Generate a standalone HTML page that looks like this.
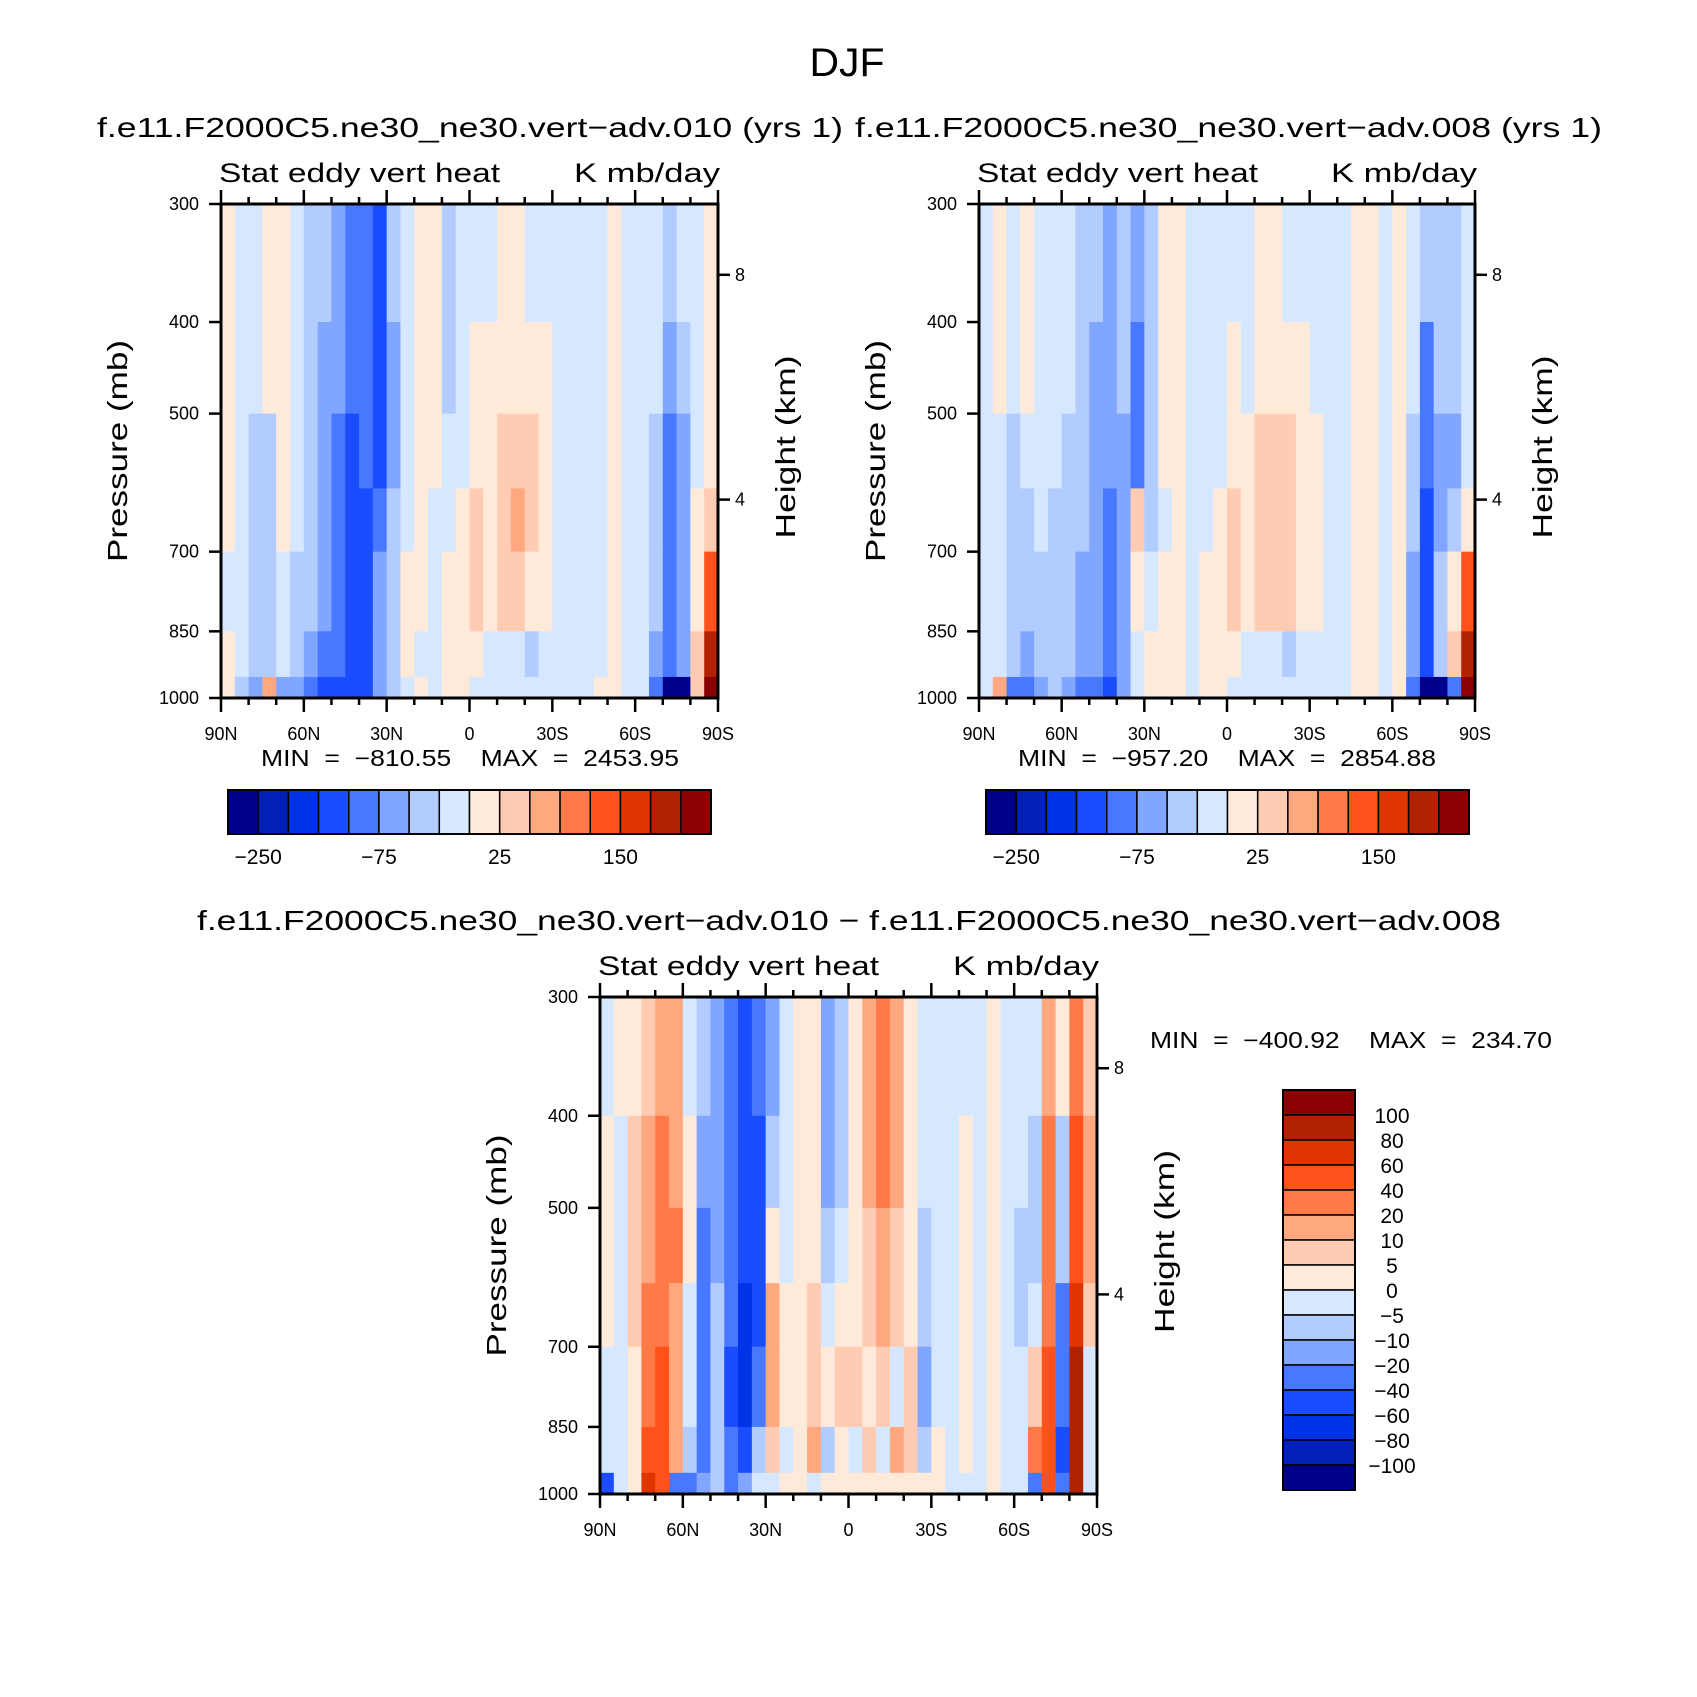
<!DOCTYPE html>
<html><head><meta charset="utf-8"><style>
html,body{margin:0;padding:0;background:#fff}
svg{display:block}
text{font-family:"Liberation Sans",sans-serif;fill:#000;white-space:pre}
</style></head><body>
<svg id="fig" width="1697" height="1697" viewBox="0 0 1697 1697" xmlns="http://www.w3.org/2000/svg">
<text x="847" y="76" font-size="40" text-anchor="middle" textLength="75" lengthAdjust="spacingAndGlyphs">DJF</text>
<g id="root"></g>
</svg>
<script>
// ---- data ----
const lats = [87.5,82.5,77.5,72.5,67.5,62.5,57.5,52.5,47.5,42.5,37.5,32.5,27.5,22.5,17.5,12.5,7.5,2.5,-2.5,-7.5,-12.5,-17.5,-22.5,-27.5,-32.5,-37.5,-42.5,-47.5,-52.5,-57.5,-62.5,-67.5,-72.5,-77.5,-82.5,-87.5];
const pEdges = [300,400,500,600,700,850,950,1000];
const levelsAbs = [-250,-200,-150,-100,-75,-50,-25,0,25,50,75,100,150,200,250];
const levelsDiff = [-100,-80,-60,-40,-20,-10,-5,0,5,10,20,40,60,80,100];
const absTickLabels = ["-250","-75","25","150"];
const absTickIdx = [0,4,8,12];
const diffTickLabels = ["100","80","60","40","20","10","5","0","-5","-10","-20","-40","-60","-80","-100"];
const latTicks = [90,60,30,0,-30,-60,-90];
const latTickLabels = ["90N","60N","30N","0","30S","60S","90S"];
const pTicks = [300,400,500,700,850,1000];
const hTicks = [356.5,616.6];
const hTickLabels = ["8","4"];
const colors = ["#00008b","#0020b8","#0032e6","#1a4dff","#4778ff","#80a6ff","#b3ccff","#d6e8ff","#ffeada","#ffcbb3","#ffa880","#ff7a47","#ff521a","#e03500","#b32200","#8b0000"];
const field010 = [
[10,-10,-10,10,10,-10,-35,-35,-60,-90,-90,-120,-35,-10,10,10,-35,-10,-10,-10,10,10,-10,-10,-10,-10,-10,-10,10,-10,-10,-10,-35,-10,-10,10],
[10,-10,-10,10,10,-10,-35,-60,-60,-90,-90,-120,-60,-10,10,10,-35,-10,10,10,10,10,10,10,-10,-10,-10,-10,10,-10,-10,-10,-60,-35,-10,10],
[10,-10,-35,-35,10,-10,-35,-60,-90,-120,-90,-120,-60,-10,10,10,-10,-10,10,10,35,35,35,10,-10,-10,-10,-10,10,-10,-10,-35,-90,-60,-10,10],
[10,-10,-35,-35,10,-10,-35,-60,-90,-120,-120,-90,-35,-10,10,-10,-10,10,35,10,35,60,35,10,-10,-10,-10,-10,10,-10,-10,-35,-90,-60,10,35],
[-10,-10,-35,-35,-10,-35,-35,-60,-90,-120,-120,-60,-35,10,10,-10,10,10,35,10,35,35,10,10,-10,-10,-10,-10,10,-10,-10,-35,-90,-60,10,100],
[10,-10,-35,-35,-10,-35,-60,-90,-90,-120,-120,-60,-35,10,-10,-10,10,10,10,-10,-10,-10,-35,-10,-10,-10,-10,-10,10,-10,-10,-60,-90,-60,35,200],
[10,-35,-60,60,-60,-60,-90,-120,-150,-150,-120,-60,-35,-10,10,-10,10,10,-10,-10,-10,-10,-10,-10,-10,-10,-10,10,10,-10,-10,-90,-300,-300,35,300]];
const field008 = [
[-10,10,-10,10,-10,-10,-10,-35,-35,-60,-35,-60,-35,10,10,-10,-10,-10,-10,-10,10,10,-10,-10,-10,-10,-10,10,10,-10,10,-10,-35,-35,-35,-10],
[-10,10,-10,10,-10,-10,-10,-35,-60,-60,-35,-90,-35,10,10,-10,-10,-10,10,-10,10,10,10,10,-10,-10,-10,10,10,-10,10,-10,-90,-35,-35,-10],
[-10,-10,-35,-10,-10,-10,-35,-35,-60,-60,-60,-90,-35,10,10,-10,-10,-10,10,10,35,35,35,10,10,-10,-10,10,10,-10,10,-35,-90,-60,-60,-10],
[-10,-10,-35,-35,-10,-35,-35,-35,-60,-90,-60,35,-35,-10,10,-10,-10,10,35,10,35,35,35,10,10,-10,-10,10,10,-10,10,-35,-120,-60,-35,10],
[-10,-10,-35,-35,-35,-35,-35,-60,-60,-90,-60,10,-10,10,10,-10,10,10,35,10,35,35,35,10,10,-10,-10,10,10,-10,10,-60,-120,-35,10,100],
[-10,-10,-35,-60,-35,-35,-35,-60,-60,-90,-60,-10,10,10,10,-10,10,10,10,-10,-10,-10,-35,-10,-10,-10,-10,10,10,-10,10,-60,-120,-35,35,200],
[-10,60,-90,-90,-60,-35,-60,-90,-90,-120,-60,-10,10,10,10,-10,10,10,-10,-10,-10,-10,-10,-10,-10,-10,-10,10,10,-10,10,-90,-300,-300,-90,300]];
const fieldDiff = [
[-2,2,2,7,15,15,-2,-7,-15,-30,-50,-30,-15,-2,2,2,-15,-7,2,15,30,15,2,-2,-2,-2,-2,-2,2,-2,-2,-2,15,2,30,7],
[2,-2,7,15,30,15,2,-15,-15,-30,-50,-50,-7,-2,2,2,-15,-7,2,15,30,15,2,-2,-2,-2,2,-2,2,-2,-2,-7,30,-7,50,15],
[2,-2,7,15,30,30,2,-30,-15,-30,-50,-50,2,-2,2,2,-7,-2,2,7,15,7,2,-7,-2,-2,2,-2,2,-2,-7,-7,30,-7,50,15],
[2,-2,7,30,30,15,-2,-30,-7,-30,-70,-50,15,2,2,7,-2,2,2,7,15,7,2,-7,-2,-2,2,-2,2,-2,-7,-2,30,-30,70,7],
[-2,-2,2,30,50,15,-2,-30,-7,-50,-70,-30,15,2,2,7,2,7,7,2,7,-2,7,-15,-2,-2,2,-2,2,-2,-2,7,50,-30,90,-2],
[-2,-2,2,50,50,15,-7,-30,-7,-30,-50,-7,7,-2,2,15,-7,2,-2,7,-2,15,7,-7,2,-2,2,-2,2,-2,-2,30,50,-50,90,-2],
[-50,-2,2,70,50,-30,-30,-15,-7,-30,-15,-2,-2,2,2,-2,2,2,2,2,2,2,2,2,2,-2,-2,-2,2,-2,-2,-30,50,-30,90,-2]];

// ---- drawing ----
const NS="http://www.w3.org/2000/svg";
const root=document.getElementById('root');
function mk(tag,attrs,parent){const e=document.createElementNS(NS,tag);for(const k in attrs)e.setAttribute(k,attrs[k]);(parent||root).appendChild(e);return e;}
function txt(s,attrs,parent){const e=mk('text',attrs,parent);e.textContent=s;return e;}
function colorFor(v,levels){let i=0;while(i<levels.length&&v>=levels[i])i++;return colors[i];}

function panel(cfg){
  const g=mk('g',{});
  
  
  const L=cfg.x0,R=cfg.x1,T=cfg.y0,B=cfg.y1;
  const xs=lat=>L+(90-lat)/180*(R-L);
  const ys=p=>B-Math.log(1000/p)/Math.log(1000/300)*(B-T);
  const cells=mk('g',{},g);
  
  
  for(let r=0;r<cfg.field.length;r++){
    for(let c=0;c<lats.length;c++){
      const xa=xs(lats[c]+2.5),xb=xs(lats[c]-2.5);
      const ya=ys(pEdges[r]),yb=ys(pEdges[r+1]);
      const rc=mk('rect',{x:xa.toFixed(2),y:ya.toFixed(2),width:(xb-xa+0.6).toFixed(2),height:(yb-ya+0.6).toFixed(2),fill:colorFor(cfg.field[r][c],cfg.levels)},cells);
      
      
    }
  }
  const frame=mk('rect',{x:L,y:T,width:R-L,height:B-T,fill:'none',stroke:'#000','stroke-width':3},g);
  
  
  for(let lat=90;lat>=-90;lat-=10){
    const major=lat%30===0;const len=major?14:7;const x=xs(lat);
    mk('line',{x1:x,x2:x,y1:B,y2:B+len,stroke:'#000','stroke-width':2.5},g);
    mk('line',{x1:x,x2:x,y1:T,y2:T-len,stroke:'#000','stroke-width':2.5},g);
  }
  latTicks.forEach((lat,i)=>{
    const t=txt(latTickLabels[i],{x:xs(lat),y:B+42,'font-size':18,'text-anchor':'middle'},g);
    
    
  });
  pTicks.forEach(p=>{
    const y=ys(p);
    mk('line',{x1:L-12,x2:L,y1:y,y2:y,stroke:'#000','stroke-width':2.5},g);
    const t=txt(String(p),{x:L-22,y:y+6,'font-size':18,'text-anchor':'end'},g);
    
    
  });
  hTicks.forEach((p,i)=>{
    const y=ys(p);
    mk('line',{x1:R,x2:R+12,y1:y,y2:y,stroke:'#000','stroke-width':2.5},g);
    const t=txt(hTickLabels[i],{x:R+17,y:y+6,'font-size':18},g);
    
    
  });
  const cy=(T+B)/2;
  const yt=txt('Pressure (mb)',{x:0,y:0,'font-size':28,'text-anchor':'middle',transform:`translate(${L-94},${cy}) rotate(-90)`,textLength:222,lengthAdjust:'spacingAndGlyphs'},g);
  
  
  const ht=txt('Height (km)',{x:0,y:0,'font-size':28,'text-anchor':'middle',transform:`translate(${R+77},${cy-4}) rotate(-90)`,textLength:183,lengthAdjust:'spacingAndGlyphs'},g);
  
  
  const s1=txt('Stat eddy vert heat',{x:L-2,y:T-22,'font-size':27,textLength:281,lengthAdjust:'spacingAndGlyphs'},g);
  
  
  const s2=txt('K mb/day',{x:R+2,y:T-22,'font-size':27,'text-anchor':'end',textLength:146,lengthAdjust:'spacingAndGlyphs'},g);
  
  
  const st=txt(cfg.title,{x:cfg.tx0,y:cfg.ty,'font-size':28,textLength:cfg.tw,lengthAdjust:'spacingAndGlyphs'},g);
  
  
  const mm=txt(cfg.minmax,{x:cfg.mx,y:cfg.my,'font-size':23,textLength:cfg.mw,lengthAdjust:'spacingAndGlyphs'},g);
  
  
}

function hbar(x0,x1,y0,y1,name){
  const g=mk('g',{});
  
  
  const w=(x1-x0)/colors.length;
  colors.forEach((c,i)=>{
    const r=mk('rect',{x:x0+i*w,y:y0,width:w,height:y1-y0,fill:c,stroke:'#000','stroke-width':1.5},g);
    
    
  });
  mk('rect',{x:x0,y:y0,width:x1-x0,height:y1-y0,fill:'none',stroke:'#000','stroke-width':2},g);
  absTickLabels.forEach((s,i)=>{
    const t=txt(s.replace('-','\u2212'),{x:x0+(absTickIdx[i]+1)*w,y:y1+30,'font-size':21,'text-anchor':'middle'},g);
    
    
  });
}
function vbar(x0,x1,y0,y1){
  const g=mk('g',{});
  
  
  const h=(y1-y0)/colors.length;
  colors.slice().reverse().forEach((c,i)=>{
    const r=mk('rect',{x:x0,y:y0+i*h,width:x1-x0,height:h,fill:c,stroke:'#000','stroke-width':1.5},g);
    
    
  });
  mk('rect',{x:x0,y:y0,width:x1-x0,height:y1-y0,fill:'none',stroke:'#000','stroke-width':2},g);
  diffTickLabels.forEach((s,i)=>{
    const t=txt(s.replace('-','\u2212'),{x:x1+37,y:y0+(i+1)*h+8,'font-size':21,'text-anchor':'middle'},g);
    
    
  });
}

panel({name:'panel-010',x0:221,x1:718,y0:204,y1:698,field:field010,levels:levelsAbs,
  title:'f.e11.F2000C5.ne30_ne30.vert\u2212adv.010 (yrs 1)',tx0:97,ty:137,tw:746,
  minmax:'MIN  =  \u2212810.55    MAX  =  2453.95',mx:261,my:766,mw:418});
panel({name:'panel-008',x0:979,x1:1475,y0:204,y1:698,field:field008,levels:levelsAbs,
  title:'f.e11.F2000C5.ne30_ne30.vert\u2212adv.008 (yrs 1)',tx0:855,ty:137,tw:747,
  minmax:'MIN  =  \u2212957.20    MAX  =  2854.88',mx:1018,my:766,mw:418});
panel({name:'panel-difference',x0:600,x1:1097,y0:997,y1:1494,field:fieldDiff,levels:levelsDiff,
  title:'f.e11.F2000C5.ne30_ne30.vert\u2212adv.010 \u2212 f.e11.F2000C5.ne30_ne30.vert\u2212adv.008',tx0:197,ty:930,tw:1304,
  minmax:'MIN  =  \u2212400.92    MAX  =  234.70',mx:1150,my:1048,mw:402});
hbar(228,711,790,834,'colorbar-010');
hbar(986,1469,790,834,'colorbar-008');
vbar(1283,1355,1090,1490);
</script>
</body></html>
